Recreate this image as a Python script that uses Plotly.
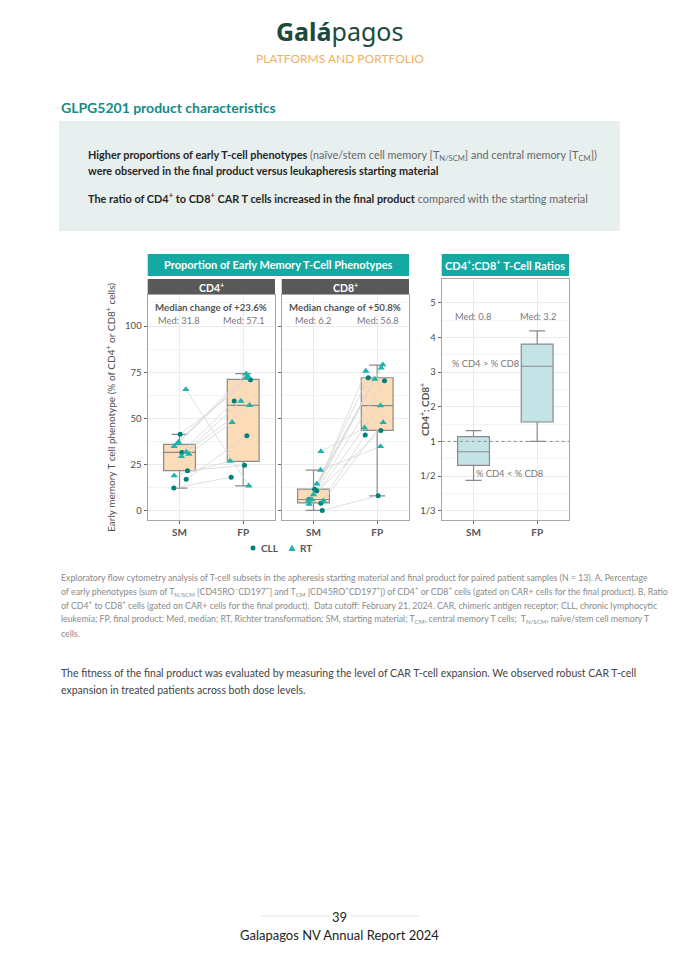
import plotly.graph_objects as go

# ---------------- data ----------------
categories = ["SM", "FP"]
patient_type = ["CLL"] * 5 + ["RT"] * 8

cd4_sm = [41.4, 31.6, 21.7, 17.0, 12.3, 65.7, 37.2, 36.3, 34.9, 31.8, 30.7, 29.4, 19.0]
cd4_fp = [70.9, 59.4, 24.6, 40.6, 18.2, 13.5, 74.2, 72.0, 73.0, 57.1, 47.9, 59.4, 26.9]
cd4_sm_jit = [0.01, 0.036, 0.126, 0.105, -0.089, 0.10, -0.016, -0.036, -0.084, 0.105, 0.147, 0.031, -0.084]
cd4_fp_jit = [0.115, -0.141, 0.021, 0.058, -0.188, 0.089, 0.047, 0.052, 0.07, 0.10, -0.173, -0.037, -0.204]

cd8_sm = [11.7, 10.8, 6.1, 4.0, 0.2, 32.1, 22.0, 14.6, 8.8, 6.1, 5.4, 3.6, 5.4]
cd8_fp = [72.0, 70.4, 43.5, 41.0, 8.1, 44.9, 34.8, 79.1, 77.3, 75.6, 71.3, 56.9, 47.8]
cd8_sm_jit = [0.016, 0.052, -0.074, 0.115, 0.137, 0.115, 0.11, 0.052, 0.0, -0.027, -0.079, -0.068, 0.157]
cd8_fp_jit = [-0.141, 0.115, 0.058, -0.188, 0.016, -0.199, 0.052, 0.089, 0.063, -0.178, -0.037, 0.052, 0.094]

# box statistics (SM, FP)
cd4_box = dict(q1=[21.7, 26.7], median=[31.6, 57.0], q3=[35.9, 71.1], lo=[12.3, 13.5], hi=[41.4, 74.2])
cd8_box = dict(q1=[4.3, 43.5], median=[6.1, 56.9], q3=[11.7, 72.0], lo=[0.2, 8.1], hi=[22.0, 78.8])
ratio_box = dict(q1=[0.59, 1.56], median=[0.77, 3.17], q3=[1.14, 3.81], lo=[0.47, 1.0], hi=[1.31, 4.19])

cd4_medians = ["Med: 31.8", "Med: 57.1"]
cd8_medians = ["Med: 6.2", "Med: 56.8"]
ratio_medians = ["Med: 0.8", "Med: 3.2"]
cd4_change = "Median change of +23.6%"
cd8_change = "Median change of +50.8%"
legend_labels = ["CLL", "RT"]

pct_ticks = [0, 25, 50, 75, 100]
ratio_tick_vals = [1/3, 1/2, 1, 2, 3, 4, 5]
ratio_tick_text = ["1/3", "1/2", "1", "2", "3", "4", "5"]

# ---------------- helpers ----------------
OFF = 8  # page body margin of the browser
W, H = 679 - OFF, 960 - OFF
def PX(x): return (x - OFF) / W
def PY(y): return 1 - (y - OFF) / H

def rt(r):
    # symmetric ratio scale: linear above 1, reciprocal below 1
    return r - 1 if r >= 1 else 1 - 1 / r

FONT = "Lato"
TEAL = "#14a9a2"
DOT_C = "#00807b"
TRI_C = "#1db3ad"
BOX_FILL = "#fcdcb8"
BOX_LINE = "#8a8a8a"
GRID = "#ebebeb"
MINOR = "#f4f4f4"
BORDER = "#a6a6a6"

fig = go.Figure()

x_pos = [1, 2]

def add_panel(sm, fp, smj, fpj, box, xa, ya):
    fig.add_trace(go.Box(
        x=x_pos, q1=box["q1"], median=box["median"], q3=box["q3"],
        lowerfence=box["lo"], upperfence=box["hi"],
        width=0.5, fillcolor=BOX_FILL, line=dict(color=BOX_LINE, width=1.2),
        boxpoints=False, showlegend=False, hoverinfo="skip",
        xaxis=xa, yaxis=ya))
    lx, ly = [], []
    for i in range(len(sm)):
        lx += [1 + smj[i], 2 + fpj[i], None]
        ly += [sm[i], fp[i], None]
    fig.add_trace(go.Scatter(x=lx, y=ly, mode="lines",
                             line=dict(color="#d6d6d6", width=0.8),
                             showlegend=False, hoverinfo="skip", xaxis=xa, yaxis=ya))
    for t, sym, col, size in [("CLL", "circle", DOT_C, 5), ("RT", "triangle-up", TRI_C, 6.5)]:
        px_, py_ = [], []
        for i in range(len(sm)):
            if patient_type[i] == t:
                px_ += [1 + smj[i], 2 + fpj[i]]
                py_ += [sm[i], fp[i]]
        fig.add_trace(go.Scatter(x=px_, y=py_, mode="markers", name=t,
                                 marker=dict(symbol=sym, color=col, size=size, line=dict(width=0)),
                                 showlegend=False, xaxis=xa, yaxis=ya))

add_panel(cd4_sm, cd4_fp, cd4_sm_jit, cd4_fp_jit, cd4_box, "x", "y")
add_panel(cd8_sm, cd8_fp, cd8_sm_jit, cd8_fp_jit, cd8_box, "x2", "y2")

fig.add_trace(go.Box(
    x=x_pos, q1=[rt(v) for v in ratio_box["q1"]], median=[rt(v) for v in ratio_box["median"]],
    q3=[rt(v) for v in ratio_box["q3"]], lowerfence=[rt(v) for v in ratio_box["lo"]],
    upperfence=[rt(v) for v in ratio_box["hi"]],
    width=0.5, fillcolor="#c3e3e7", line=dict(color=BOX_LINE, width=1.2),
    boxpoints=False, showlegend=False, hoverinfo="skip", xaxis="x3", yaxis="y3"))

# ---------------- axes ----------------
tickfont = dict(family=FONT, size=9.5, color="#4d4d4d")
xcommon = dict(range=[0.5, 2.5], tickvals=x_pos, ticktext=categories,
               tickfont=dict(family=FONT, size=10, color="#555555", weight="bold"),
               showgrid=True, gridcolor=GRID, gridwidth=1, zeroline=False,
               showline=True, mirror=True, linecolor=BORDER, linewidth=1.3,
               ticks="outside", ticklen=3, tickcolor="#666666", fixedrange=True)
ycommon = dict(range=[-5, 116.8], tickvals=pct_ticks, tickfont=tickfont,
               showgrid=True, gridcolor=GRID, zeroline=False,
               minor=dict(tickvals=[12.5, 37.5, 62.5, 87.5, 112.5], showgrid=True, gridcolor=MINOR),
               showline=True, mirror=True, linecolor=BORDER, linewidth=1.3,
               ticks="outside", ticklen=3, tickcolor="#666666")

y_lo, y_hi = PY(520), PY(295)
fig.update_layout(
    xaxis=dict(domain=[PX(147.7), PX(275)], anchor="y", **xcommon),
    xaxis2=dict(domain=[PX(281.7), PX(409)], anchor="y2", **xcommon),
    xaxis3=dict(domain=[PX(441.7), PX(569)], anchor="y3", **xcommon),
    yaxis=dict(domain=[y_lo, y_hi], anchor="x", **ycommon,
               title=dict(text="Early memory T cell phenotype (% of CD4<sup>+</sup> or CD8<sup>+</sup> cells)",
                          font=dict(family=FONT, size=10, color="#4d4d4d"), standoff=7)),
    yaxis2=dict(domain=[y_lo, y_hi], anchor="x2", showticklabels=False, **{k: v for k, v in ycommon.items() if k != "tickfont"}),
    yaxis3=dict(domain=[y_lo, PY(279)], anchor="x3", range=[-2.27, 4.69],
                tickvals=[rt(v) for v in ratio_tick_vals], ticktext=ratio_tick_text, tickfont=tickfont,
                showgrid=True, gridcolor=GRID, zeroline=False,
                minor=dict(tickvals=[-1.5, -0.5, 0.5, 1.5, 2.5, 3.5], showgrid=True, gridcolor=MINOR),
                showline=True, mirror=True, linecolor=BORDER, linewidth=1.3,
                ticks="outside", ticklen=3, tickcolor="#666666"),
)

shapes = []
annots = []

def text(x, y, s, size, color, anchor="left", bold=False, family=FONT, yanchor="middle", **kw):
    annots.append(dict(x=PX(x), y=PY(y), xref="paper", yref="paper", text=s, showarrow=False,
                       xanchor=anchor, yanchor=yanchor,
                       font=dict(family=family, size=size, color=color, weight="bold" if bold else "normal"),
                       **kw))

def rect(x0, y0, x1, y1, fill, line=None):
    shapes.append(dict(type="rect", xref="paper", yref="paper", x0=PX(x0), x1=PX(x1), y0=PY(y1), y1=PY(y0),
                       fillcolor=fill, line=dict(width=0) if line is None else line, layer="below"))

def hline(x0, x1, y, color, width=1):
    shapes.append(dict(type="line", xref="paper", yref="paper", x0=PX(x0), x1=PX(x1), y0=PY(y), y1=PY(y),
                       line=dict(color=color, width=width)))

# header
text(339.5, 31, "<b>Galá</b>pagos", 25, "#1c4a3b", anchor="center", family="Noto Sans")
text(339.5, 58, "PLATFORMS AND PORTFOLIO", 12, "#f2b05e", anchor="center", family=FONT)
text(59, 108, "GLPG5201 product characteristics", 14, "#168a86", bold=True)

# highlight box
rect(59, 121, 620, 231, "#e8f0ef")
D = "#262626"
text(86, 155, "<b>Higher proportions of early T-cell phenotypes</b> "
     "<span style='color:#666666'>(naïve/stem cell memory [T<sub>N/SCM</sub>] and central memory [T<sub>CM</sub>])</span>",
     10.9, D)
text(86, 170, "<b>were observed in the final product versus leukapheresis starting material</b>", 10.9, D)
text(86, 198, "<b>The ratio of CD4<sup>+</sup> to CD8<sup>+</sup> CAR T cells increased in the final product</b> "
     "<span style='color:#666666'>compared with the starting material</span>", 10.9, D)

# chart headers
rect(147.7, 254, 409, 276, TEAL)
text(278.3, 265, "Proportion of Early Memory T-Cell Phenotypes", 11, "white", anchor="center", bold=True)
rect(441.7, 254, 569, 276, TEAL)
text(505.3, 265, "CD4<sup>+</sup>:CD8<sup>+</sup> T-Cell Ratios", 11, "white", anchor="center", bold=True)
rect(147.7, 279, 275, 295, "#595959")
text(211.3, 287, "CD4<sup>+</sup>", 10.5, "white", anchor="center", bold=True)
rect(281.7, 279, 409, 295, "#595959")
text(345.3, 287, "CD8<sup>+</sup>", 10.5, "white", anchor="center", bold=True)

# ratio axis title
text(424, 410, "<b>CD4<sup>+</sup>: CD8<sup>+</sup></b>", 10, "#555555", anchor="center", textangle=-90)

# panel annotations
text(211.3, 307, cd4_change, 9.7, "#555555", anchor="center", bold=True)
text(345.3, 307, cd8_change, 9.7, "#555555", anchor="center", bold=True)
for (x0, labels) in [(147.7, cd4_medians), (281.7, cd8_medians), (441.7, ratio_medians)]:
    yy = 317 if x0 > 400 else 321
    text(x0 + 31.5, yy, labels[0], 9.3, "#777777", anchor="center")
    text(x0 + 96.5, yy, labels[1], 9.3, "#777777", anchor="center")
text(485, 363, "% CD4 > % CD8", 9.3, "#777777", anchor="center")
text(509, 473, "% CD4 < % CD8", 9.3, "#777777", anchor="center")

# ratio reference line at 1
shapes.append(dict(type="line", xref="x3", yref="y3", x0=0.5, x1=2.5, y0=rt(1), y1=rt(1),
                   line=dict(color="#8c8c8c", width=1, dash="dot")))

# legend (drawn manually)
ly = 548
shapes.append(dict(type="circle", xref="paper", yref="paper",
                   x0=PX(250.5), x1=PX(255.5), y0=PY(ly + 2.5), y1=PY(ly - 2.5),
                   fillcolor=DOT_C, line=dict(width=0)))
shapes.append(dict(type="path", xref="paper", yref="paper",
                   path=f"M {PX(288.5)} {PY(ly + 3)} L {PX(295.5)} {PY(ly + 3)} L {PX(292)} {PY(ly - 3.5)} Z",
                   fillcolor=TRI_C, line=dict(width=0)))
text(258.5, ly, legend_labels[0], 10, "#555555", bold=True)
text(297.5, ly, legend_labels[1], 10, "#555555", bold=True)

# footnote
foot = [
    "Exploratory flow cytometry analysis of T-cell subsets in the apheresis starting material and final product for paired patient samples (N = 13). A, Percentage",
    "of early phenotypes (sum of T<sub>N/SCM</sub> [CD45RO<sup>−</sup>CD197<sup>+</sup>] and T<sub>CM</sub> [CD45RO<sup>+</sup>CD197<sup>+</sup>]) of CD4<sup>+</sup> or CD8<sup>+</sup> cells (gated on CAR+ cells for the final product). B, Ratio",
    "of CD4<sup>+</sup> to CD8<sup>+</sup> cells (gated on CAR+ cells for the final product).  Data cutoff: February 21, 2024. CAR, chimeric antigen receptor; CLL, chronic lymphocytic",
    "leukemia; FP, final product; Med, median; RT, Richter transformation; SM, starting material; T<sub>CM</sub>, central memory T cells;  T<sub>N/SCM</sub>, naïve/stem cell memory T",
    "cells.",
]
for i, line in enumerate(foot):
    text(59, 577 + i * 14, line, 8.75, "#8a8a8a")

# body paragraph
text(59, 673, "The fitness of the final product was evaluated by measuring the level of CAR T-cell expansion. We observed robust CAR T-cell", 10.5, "#444444")
text(59, 690, "expansion in treated patients across both dose levels.", 10.5, "#444444")

# footer
hline(261, 330, 916, "#e6e6e6", 1)
hline(350, 419, 916, "#e6e6e6", 1)
text(339.5, 917, "39", 13, "#222222", anchor="center")
text(339.5, 935, "Galapagos NV Annual Report 2024", 13, "#222222", anchor="center")

fig.update_layout(
    width=W, height=H, margin=dict(l=0, r=0, t=0, b=0),
    paper_bgcolor="white", plot_bgcolor="white",
    shapes=shapes, annotations=annots,
    showlegend=False,
    font=dict(family=FONT),
)

fig.write_html("out.html")
